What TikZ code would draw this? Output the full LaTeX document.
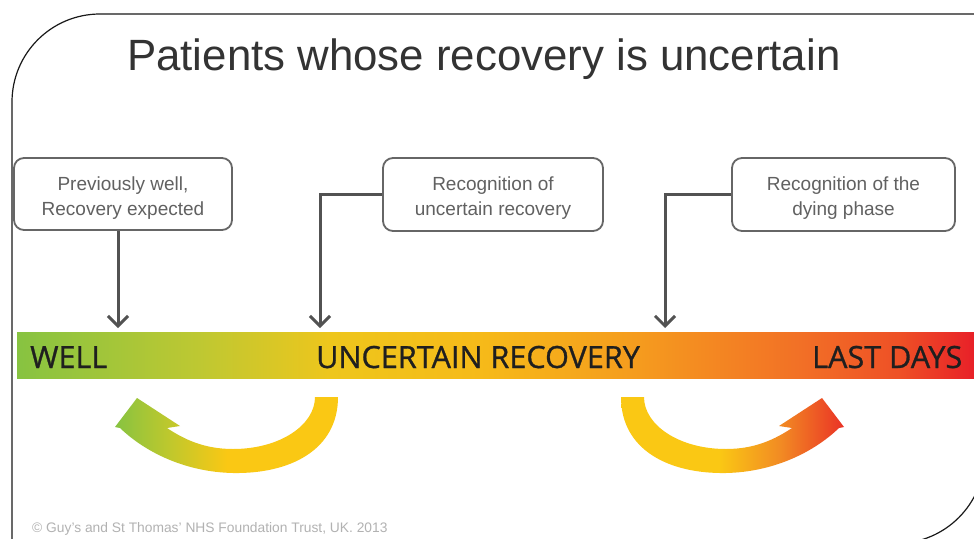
\documentclass[tikz,border=0pt]{standalone}
\usepackage{fontspec}
\setmainfont{Liberation Sans}
\newfontfamily\barfont[FakeBold=0.9]{Open Sans}
\usetikzlibrary{arrows.meta}
\definecolor{cGreen}{RGB}{135,195,65}
\definecolor{cYG}{RGB}{190,200,50}
\definecolor{cYel}{RGB}{238,198,28}
\definecolor{cGold}{RGB}{246,186,25}
\definecolor{cOr}{RGB}{245,155,30}
\definecolor{cOr2}{RGB}{242,112,38}
\definecolor{cOr3}{RGB}{238,80,38}
\definecolor{cRed}{RGB}{232,32,40}
\definecolor{aYel}{RGB}{250,200,20}
\definecolor{aOr}{RGB}{242,140,35}
\definecolor{aRed}{RGB}{234,50,38}
\definecolor{aYG}{RGB}{190,200,45}
\pgfdeclarehorizontalshading{barshade}{100bp}{color(0bp)=(cGreen); color(25bp)=(cGreen); color(34.5bp)=(cYG); color(41.4bp)=(cYel); color(49.2bp)=(cGold); color(57.5bp)=(cOr); color(65.9bp)=(cOr2); color(71.1bp)=(cOr3); color(75bp)=(cRed); color(100bp)=(cRed)}
\pgfdeclarehorizontalshading{leftshade}{100bp}{color(0bp)=(cGreen); color(25bp)=(cGreen); color(37bp)=(aYG); color(50bp)=(aYel); color(100bp)=(aYel)}
\pgfdeclarehorizontalshading{rightshade}{100bp}{color(0bp)=(aYel); color(47bp)=(aYel); color(60.5bp)=(aOr); color(75bp)=(aRed); color(100bp)=(aRed)}
\tikzset{
  infobox/.style={draw=black!60, line width=1.8pt, rounded corners=10pt, fill=white, inner sep=0pt},
  boxtext/.style={text=black!62, align=center, inner sep=0pt,
    font=\fontsize{19}{25}\selectfont},
  conn/.style={draw=black!68, line width=3pt, -{Straight Barb[length=10pt,width=20pt,line width=3pt]}},
  bartext/.style={anchor=base west, inner sep=0pt, text=black!88,
    font=\barfont\fontsize{30.6}{34}\selectfont},
  frame/.style={draw=black!90, line width=1.2pt}
}
\begin{document}
\begin{tikzpicture}[x=1pt,y=-1pt]
\useasboundingbox (0,0) rectangle (974,538);
\fill[white] (0,0) rectangle (974,538);
% frame
\draw[frame, rounded corners=88pt] (12,560) -- (12,14) -- (990,14);
\draw[frame, rounded corners=88pt] (984.5,300) -- (984.5,543.4) -- (800,543.4);
% title
\node[anchor=base west, inner sep=0pt, text=black!80, font=\fontsize{43.8}{50}\selectfont] (title) at (127,70) {Patients whose recovery is uncertain};
% bar
\node[shading=barshade, minimum width=957pt, minimum height=46pt, inner sep=0pt, anchor=north west] (bar) at (17,332) {};
\node[bartext] (well) at (30,368) {WELL};
\node[bartext] (unc) at (316,368) {UNCERTAIN RECOVERY};
\node[bartext] (last) at (812,368) {LAST DAYS};
% boxes
\node[infobox, minimum width=218pt, minimum height=72pt] (b1) at (123,194) {};
\node[infobox, minimum width=220pt, minimum height=73pt] (b2) at (493,194.5) {};
\node[infobox, minimum width=223pt, minimum height=73pt] (b3) at (843.5,194.5) {};
\node[boxtext] (b1t) at ([yshift=-4pt]b1.center) {Previously well,\\Recovery expected};
\node[boxtext] (b2t) at ([yshift=-4pt]b2.center) {Recognition of\\uncertain recovery};
\node[boxtext] (b3t) at ([yshift=-4pt]b3.center) {Recognition of the\\dying phase};
% connectors
\coordinate (s1) at (118,230.5);
\coordinate (t1) at (118,328);
\coordinate (t2) at (320,328);
\coordinate (t3) at (665,328);
\draw[conn] (s1) -- (t1);
\draw[conn] (b2.west) -| (t2);
\draw[conn] (b3.west) -| (t3);
% curved arrows
\shade[shading=leftshade] (338,397) .. controls (338,450) and (290,474) .. (233,473)
  .. controls (185,472) and (145,452) .. (120,428) -- (115,427) -- (137,398) -- (180,426) -- (167,428)
  .. controls (185,440) and (205,449) .. (233,449) .. controls (280,449) and (315,425) .. (315,397) -- cycle;
\shade[shading=rightshade] (621,397) .. controls (621,450) and (669,474) .. (726,473)
  .. controls (774,472) and (814,452) .. (839,428) -- (844,427) -- (822,398) -- (779,426) -- (792,428)
  .. controls (774,440) and (754,449) .. (726,449) .. controls (679,449) and (644,425) .. (644,397) -- cycle;
% copyright
\node[anchor=base west, inner sep=0pt, text=black!30, font=\fontsize{13.8}{15}\selectfont] (copy) at (32,532) {© Guy’s and St Thomas’ NHS Foundation Trust, UK. 2013};
\end{tikzpicture}
\end{document}
